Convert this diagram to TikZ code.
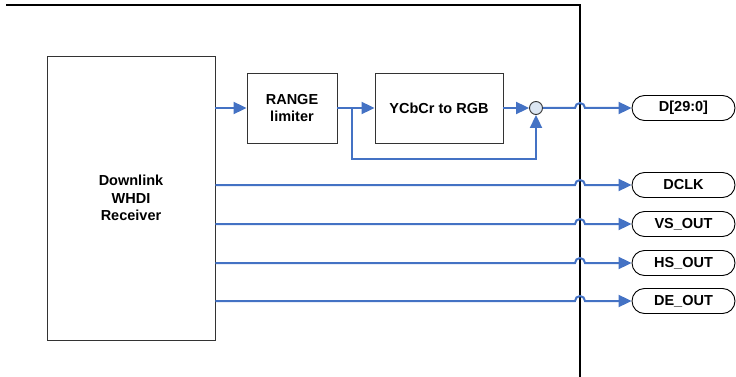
\documentclass[tikz,border=0pt]{standalone}
\usepackage{fontspec}
\setmainfont{Liberation Sans}
\usetikzlibrary{arrows.meta,shapes.misc,calc}
\definecolor{sigblue}{RGB}{68,114,196}
\definecolor{sumfill}{RGB}{220,230,242}
\begin{document}
\begin{tikzpicture}[x=1pt,y=-1pt,
  font=\fontsize{14.5}{17.5}\selectfont\bfseries,
  blockbox/.style={draw=black!80,line width=0.9pt,fill=white,align=center,inner sep=0pt},
  pill/.style={draw=black,line width=0.9pt,rounded rectangle,minimum width=103pt,minimum height=25pt,inner sep=0pt,fill=white},
  sig/.style={draw=sigblue,line width=2pt,-{Triangle[length=13pt,width=12pt]}},
  frame/.style={draw=black,line width=2pt}]
\useasboundingbox (0,0) rectangle (736,377);
% frame
\draw[frame] (6,5) -- (580,5) -- (580,377);
% blocks
\node[blockbox,minimum width=168pt,minimum height=284pt] (recv) at (131,198) {Downlink\\WHDI\\Receiver};
\node[blockbox,minimum width=90pt,minimum height=70pt] (range) at (292,108) {RANGE\\limiter};
\node[blockbox,minimum width=128pt,minimum height=70pt] (ycc) at (439,108) {YCbCr to RGB};
\node[draw=black!80,line width=0.9pt,fill=sumfill,circle,minimum size=13pt,inner sep=0pt] (sum) at (536,108) {};
% outputs
\node[pill] (d) at (683.5,108) {D[29:0]};
\node[pill] (dclk) at (683.5,185) {DCLK};
\node[pill] (vs) at (683.5,224) {VS\_OUT};
\node[pill] (hs) at (683.5,263) {HS\_OUT};
\node[pill] (de) at (683.5,301) {DE\_OUT};
% connections
\coordinate (br) at (352,108);
\draw[sig] (recv.east |- range.west) -- (range.west);
\draw[sig] (range.east) -- (ycc.west);
\draw[sig] (br) -- (352,159) -| (sum.south);
\draw[sig] (ycc.east) -- (sum.west);
\draw[sig] (sum.east) -- (575,108) arc[start angle=180,end angle=0,radius=5pt] -- (d.west);
\draw[sig] (recv.east |- dclk.west) -- (575,185) arc[start angle=180,end angle=0,radius=5pt] -- (dclk.west);
\draw[sig] (recv.east |- vs.west) -- (575,224) arc[start angle=180,end angle=0,radius=5pt] -- (vs.west);
\draw[sig] (recv.east |- hs.west) -- (575,263) arc[start angle=180,end angle=0,radius=5pt] -- (hs.west);
\draw[sig] (recv.east |- de.west) -- (575,301) arc[start angle=180,end angle=0,radius=5pt] -- (de.west);
\end{tikzpicture}
\end{document}
